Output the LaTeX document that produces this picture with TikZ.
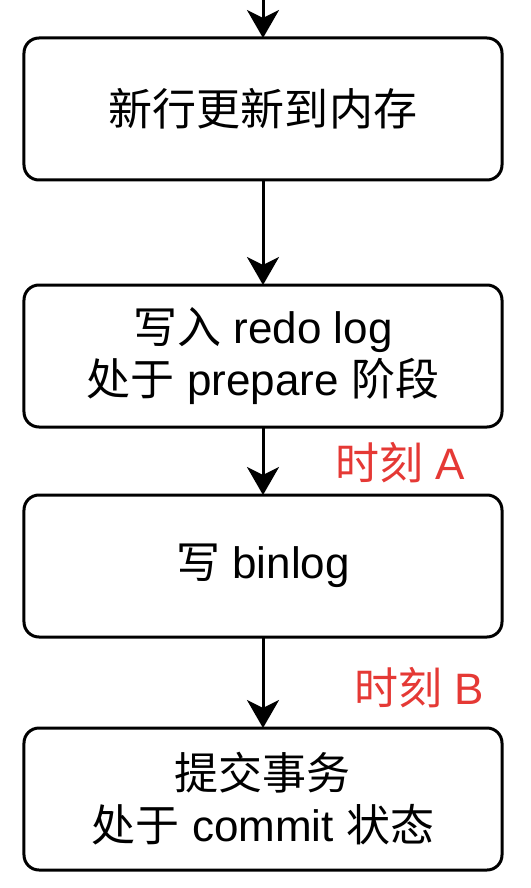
\documentclass[tikz,border=0pt]{standalone}
\usepackage{fontspec}
\setmainfont{Liberation Sans}
\newfontfamily\cjk{Noto Sans CJK SC}
\usetikzlibrary{positioning,arrows.meta}

\begin{document}
\begin{tikzpicture}[
  stepbox/.style={draw,line width=1.5pt,rounded corners=7.5pt,minimum width=239pt,
    minimum height=71pt,outer sep=0pt,align=center,
    font=\fontsize{22}{26}\selectfont},
  flow/.style={line width=1.5pt,-{Stealth[length=14pt,width=16pt,inset=4pt]}},
  timelabel/.style={text={rgb,255:red,229;green,57;blue,53},font=\fontsize{22}{26}\selectfont}]

\useasboundingbox (-131.5pt,54.5pt) rectangle (133.5pt,-389.5pt);

\node [stepbox] (mem) at (0,0) {{\cjk 新行更新到内存}};
\node [stepbox,below=52.5pt of mem] (redo) {{\cjk 写入} redo log\\{\cjk 处于} prepare {\cjk 阶段}};
\node [stepbox,below=34pt of redo] (binlog) {{\cjk 写} binlog};
\node [stepbox,below=45.5pt of binlog] (commit) {{\cjk 提交事务}\\{\cjk 处于} commit {\cjk 状态}};

\coordinate (start) at (0,54.5pt);

\draw [flow](start)--(mem);
\draw [flow](mem)--(redo);
\draw [flow](redo)--(binlog);
\draw [flow](binlog)--(commit);

\node [timelabel] (timeA) at ([xshift=68.5pt,yshift=16pt]binlog.north) {{\cjk 时刻} A};
\node [timelabel] (timeB) at ([xshift=78pt,yshift=20pt]commit.north) {{\cjk 时刻} B};

\end{tikzpicture}
\end{document}
